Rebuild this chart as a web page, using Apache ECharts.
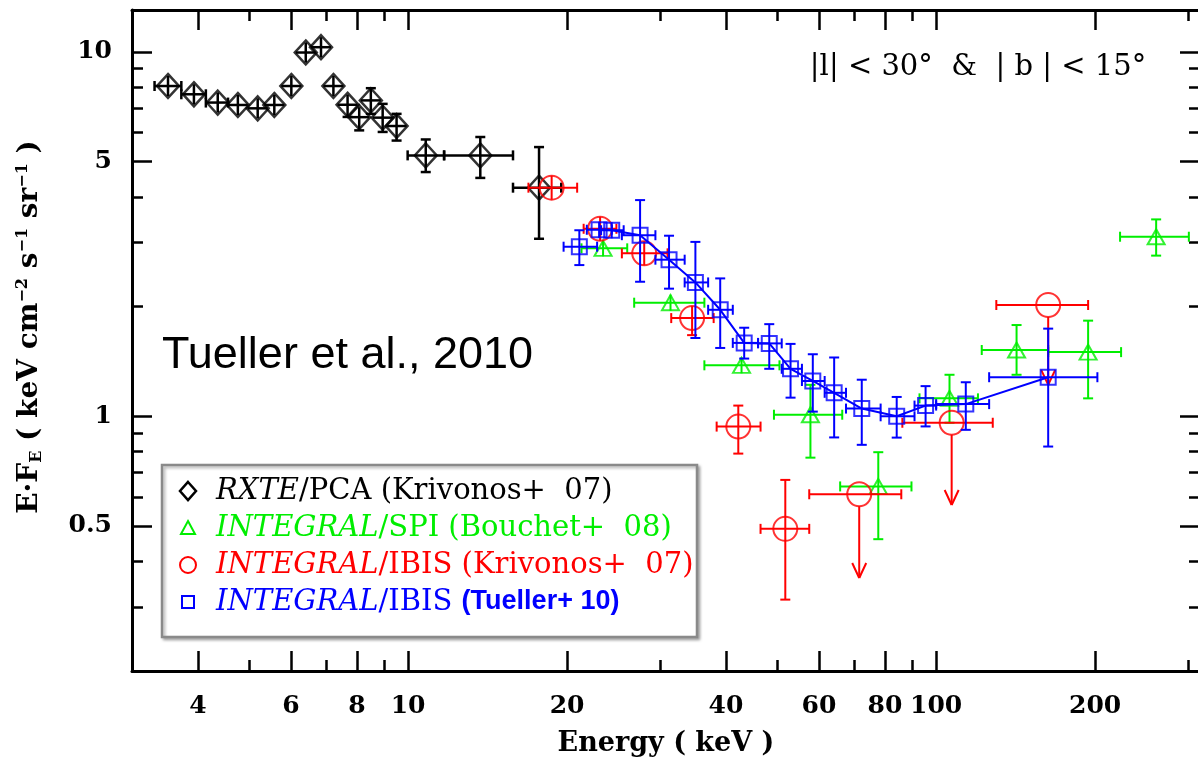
<!DOCTYPE html>
<html>
<head>
<meta charset="utf-8">
<script src="https://cdn.jsdelivr.net/npm/echarts@6.0.0/dist/echarts.min.js"></script>
<style>
html, body { margin: 0; padding: 0; background: #fff; }
#chart { width: 1198px; height: 763px; }
</style>
</head>
<body>
<div id="chart"></div>
<script>
// RXTE/PCA (Krivonos+ 07)
var rxteE = [3.51, 3.93, 4.36, 4.76, 5.19, 5.58, 6.01, 6.40, 6.84, 7.22, 7.68, 8.08, 8.50, 8.95, 9.51, 10.8, 13.7, 17.7]
var rxteF = [8.06, 7.65, 7.26, 7.15, 7.00, 7.15, 8.06, 9.96, 10.3, 8.06, 7.16, 6.62, 7.36, 6.60, 6.26, 5.20, 5.20, 4.24]
var rxteElo = [3.31, 3.72, 4.14, 4.56, 4.97, 5.38, 5.85, 6.25, 6.68, 7.05, 7.50, 7.90, 8.32, 8.77, 9.34, 9.98, 11.7, 15.8]
var rxteEhi = [3.72, 4.14, 4.56, 4.97, 5.38, 5.79, 6.17, 6.55, 7.00, 7.40, 7.86, 8.26, 8.68, 9.15, 9.70, 11.7, 15.8, 19.5]
var rxteFlo = [7.90, 7.50, 7.12, 7.00, 6.86, 7.00, 7.90, 9.76, 10.1, 7.90, 6.63, 6.09, 6.76, 6.03, 5.71, 4.68, 4.51, 3.07]
var rxteFhi = [8.22, 7.80, 7.40, 7.30, 7.14, 7.30, 8.22, 10.16, 10.5, 8.22, 7.62, 6.98, 7.95, 7.20, 6.76, 5.75, 5.84, 5.48]

// INTEGRAL/SPI (Bouchet+ 08)
var spiE = [23.4, 31.4, 42.8, 57.8, 77.7, 106, 142, 194, 261]
var spiF = [2.89, 2.05, 1.38, 1.01, 0.642, 1.12, 1.52, 1.50, 3.11]
var spiElo = [21.3, 26.8, 36.4, 49.3, 65.8, 93, 122, 163, 223]
var spiEhi = [26.0, 36.4, 50.5, 66.4, 89.8, 120, 163, 224, 301]
var spiFlo = [2.82, 1.98, 1.32, 0.77, 0.46, 0.96, 1.30, 1.12, 2.76]
var spiFhi = [2.96, 2.12, 1.45, 1.22, 0.797, 1.30, 1.78, 1.83, 3.47]

// INTEGRAL/IBIS (Krivonos+ 07), last three are upper limits
var ibisKE = [18.7, 23.1, 28.0, 34.5, 42.2, 51.8, 71.5, 107, 163]
var ibisKF = [4.24, 3.27, 2.80, 1.86, 0.937, 0.491, 0.611, 0.96, 2.02]
var ibisKElo = [16.9, 21.5, 25.4, 31.5, 38.4, 46.5, 57.5, 86.3, 130]
var ibisKEhi = [20.9, 24.8, 31.0, 37.9, 46.5, 57.5, 85.9, 128, 194]
var ibisKFlo = [4.14, 3.19, 2.73, 1.67, 0.79, 0.314, 0.36, 0.571, 1.22]
var ibisKFhi = [4.34, 3.35, 2.87, 2.00, 1.07, 0.669, 0.611, 0.96, 2.02]
var ibisKUL = [0, 0, 0, 0, 0, 0, 1, 1, 1]

// INTEGRAL/IBIS (Tueller+ 10)
var ibisTE = [21.1, 23.0, 24.3, 27.5, 31.2, 35.0, 39.0, 43.3, 48.3, 53.0, 58.4, 64.1, 72.3, 84.2, 95.5, 113.8, 163]
var ibisTF = [2.92, 3.25, 3.24, 3.14, 2.69, 2.33, 1.96, 1.59, 1.585, 1.35, 1.25, 1.16, 1.05, 1.00, 1.07, 1.08, 1.28]
var ibisTElo = [19.7, 21.8, 23.2, 25.4, 29.4, 33.4, 37.0, 41.2, 46.0, 51.0, 55.7, 61.5, 67.5, 78.5, 91, 100, 126]
var ibisTEhi = [22.8, 24.3, 25.6, 29.4, 33.4, 37.0, 41.2, 46.0, 51.0, 55.7, 61.5, 67.5, 78.5, 91, 100, 126, 202]
var ibisTFlo = [2.60, 3.15, 3.14, 2.34, 2.24, 1.64, 1.54, 1.44, 1.35, 1.125, 1.03, 0.875, 0.835, 0.874, 0.938, 0.918, 0.826]
var ibisTFhi = [3.24, 3.35, 3.34, 3.92, 3.13, 3.01, 2.39, 1.75, 1.79, 1.58, 1.48, 1.45, 1.26, 1.13, 1.21, 1.24, 1.74]

// axes
var xMin = 3
var xMax = 316
var yMin = 0.2
var yMax = 13.03
var xMajor = [4, 6, 8, 10, 20, 40, 60, 80, 100, 200]
var xMinor = [5, 7, 9, 30, 50, 70, 90, 300]
var xLabels = [4, 6, 8, 10, 20, 40, 60, 80, 100, 200]
var yMajor = [0.5, 1, 5, 10]
var yMinor = [0.3, 0.4, 0.6, 0.7, 0.8, 0.9, 2, 3, 4, 6, 7, 8, 9]
var yLabels = [0.5, 1, 5, 10]

var serif = 'DejaVu Serif'

function rows (E, F, lo, hi, flo, fhi, ul) {
  return E.map(function (e, i) {
    return [e, F[i], lo[i], hi[i], flo[i], fhi[i], ul ? ul[i] : 0]
  })
}

function errorBars (color, lw, r) {
  return function (params, api) {
    var e = api.value(0)
    var f = api.value(1)
    var c = api.coord([e, f])
    var xl = api.coord([api.value(2), f])[0]
    var xh = api.coord([api.value(3), f])[0]
    var yl = api.coord([e, api.value(4)])[1]
    var yh = api.coord([e, api.value(5)])[1]
    var ul = api.value(6)
    var st = { stroke: color, lineWidth: lw, fill: null }
    var kids = []
    var seg = function (x1, y1, x2, y2) {
      kids.push({ type: 'line', shape: { x1: x1, y1: y1, x2: x2, y2: y2 }, style: st })
    }
    var cap = 5
    seg(Math.min(xl, c[0] - r), c[1], Math.max(xh, c[0] + r), c[1])
    if (xl < c[0] - r) seg(xl, c[1] - cap, xl, c[1] + cap)
    if (xh > c[0] + r) seg(xh, c[1] - cap, xh, c[1] + cap)
    if (ul) {
      seg(c[0], c[1] + r, c[0], yl)
      seg(c[0] - 7, yl - 15, c[0], yl)
      seg(c[0], yl, c[0] + 7, yl - 15)
    } else {
      seg(c[0], Math.min(yh, c[1] - r), c[0], Math.max(yl, c[1] + r))
      if (yh < c[1] - r) seg(c[0] - cap, yh, c[0] + cap, yh)
      if (yl > c[1] + r) seg(c[0] - cap, yl, c[0] + cap, yl)
    }
    return { type: 'group', children: kids }
  }
}

function tickAxis (dir, pos, vals, len, labels) {
  var lo = dir === 'x' ? Math.log10(xMin) : Math.log10(yMin)
  var hi = dir === 'x' ? Math.log10(xMax) : Math.log10(yMax)
  var ax = {
    type: 'value',
    position: pos,
    offset: 0,
    min: lo,
    max: hi,
    axisLine: { show: false, onZero: false },
    splitLine: { show: false },
    axisTick: {
      show: true,
      inside: true,
      length: len,
      customValues: vals.map(Math.log10),
      lineStyle: { color: '#000', width: 2.5 }
    },
    axisLabel: { show: false }
  }
  if (labels) {
    ax.axisLabel = {
      show: true,
      customValues: labels.map(Math.log10),
      margin: dir === 'x' ? 23 : 20,
      color: '#000',
      fontFamily: serif,
      fontWeight: 'bold',
      fontSize: 25,
      formatter: function (v) {
        return String(Math.round(Math.pow(10, v) * 10) / 10)
      }
    }
  }
  return ax
}

function frameAxis (type, pos, dir) {
  var ax = {
    type: type,
    position: pos,
    offset: 0,
    min: dir === 'x' ? xMin : yMin,
    max: dir === 'x' ? xMax : yMax,
    axisLine: { show: true, onZero: false, lineStyle: { color: '#000', width: 3 } },
    axisTick: { show: false },
    axisLabel: { show: false },
    splitLine: { show: false }
  }
  if (type === 'log') ax.logBase = 10
  return ax
}

var xBottom = frameAxis('log', 'bottom', 'x')
xBottom.name = 'Energy ( keV )'
xBottom.nameLocation = 'middle'
xBottom.nameGap = 59
xBottom.nameTextStyle = { fontFamily: serif, fontWeight: 'bold', fontSize: 27, color: '#000' }

var myChart = echarts.init(document.getElementById('chart'), null, { renderer: 'canvas' })

var option = {
  animation: false,
  backgroundColor: '#fff',
  grid: { left: 132, right: -2, top: 10, bottom: 92, containLabel: false, outerBoundsMode: 'none' },
  xAxis: [
    xBottom,
    tickAxis('x', 'bottom', xMajor, 20, xLabels),
    tickAxis('x', 'bottom', xMinor, 11),
    tickAxis('x', 'top', xMajor, 20),
    tickAxis('x', 'top', xMinor, 11),
    frameAxis('log', 'top', 'x')
  ],
  yAxis: [
    frameAxis('log', 'left', 'y'),
    tickAxis('y', 'left', yMajor, 20, yLabels),
    tickAxis('y', 'left', yMinor, 11),
    tickAxis('y', 'right', yMajor, 20),
    tickAxis('y', 'right', yMinor, 11),
    frameAxis('log', 'right', 'y')
  ],
  series: [
    {
      type: 'custom',
      renderItem: errorBars('#000', 2.5, 10),
      data: rows(rxteE, rxteF, rxteElo, rxteEhi, rxteFlo, rxteFhi),
      encode: { x: 0, y: 1 },
      z: 2
    },
    {
      type: 'scatter',
      symbol: 'diamond',
      symbolSize: [22, 24],
      itemStyle: { color: 'rgba(0,0,0,0)', borderColor: '#000', borderWidth: 2.5 },
      data: rxteE.map(function (e, i) { return [e, rxteF[i]] }),
      z: 2
    },
    {
      type: 'custom',
      renderItem: errorBars('#00ee00', 2, 8),
      data: rows(spiE, spiF, spiElo, spiEhi, spiFlo, spiFhi),
      encode: { x: 0, y: 1 },
      z: 3
    },
    {
      type: 'scatter',
      symbol: 'triangle',
      symbolSize: [17, 15],
      itemStyle: { color: 'rgba(0,0,0,0)', borderColor: '#00ee00', borderWidth: 2 },
      data: spiE.map(function (e, i) { return [e, spiF[i]] }),
      z: 3
    },
    {
      type: 'custom',
      renderItem: errorBars('#ff0000', 2, 12),
      data: rows(ibisKE, ibisKF, ibisKElo, ibisKEhi, ibisKFlo, ibisKFhi, ibisKUL),
      encode: { x: 0, y: 1 },
      z: 4
    },
    {
      type: 'scatter',
      symbol: 'circle',
      symbolSize: 24,
      itemStyle: { color: 'rgba(0,0,0,0)', borderColor: '#ff0000', borderWidth: 2 },
      data: ibisKE.map(function (e, i) { return [e, ibisKF[i]] }),
      z: 4
    },
    {
      type: 'line',
      showSymbol: false,
      lineStyle: { color: '#0000ff', width: 2 },
      data: ibisTE.slice(1).map(function (e, i) { return [e, ibisTF[i + 1]] }),
      z: 5
    },
    {
      type: 'custom',
      renderItem: errorBars('#0000ff', 2, 8),
      data: rows(ibisTE, ibisTF, ibisTElo, ibisTEhi, ibisTFlo, ibisTFhi),
      encode: { x: 0, y: 1 },
      z: 5
    },
    {
      type: 'scatter',
      symbol: 'rect',
      symbolSize: 15,
      itemStyle: { color: 'rgba(0,0,0,0)', borderColor: '#0000ff', borderWidth: 2 },
      data: ibisTE.map(function (e, i) { return [e, ibisTF[i]] }),
      z: 5
    }
  ],
  graphic: [
    {
      type: 'text', x: 978, y: 67, z: 10,
      style: { text: '|l| < 30°  &  | b | < 15°', font: '29px "DejaVu Serif"', fill: '#000', align: 'center', verticalAlign: 'middle' }
    },
    {
      type: 'text', x: 162, y: 356, z: 10,
      style: { text: 'Tueller et al., 2010', font: '45px "Liberation Sans"', fill: '#000', align: 'left', verticalAlign: 'middle' }
    },
    {
      type: 'text', x: 30, y: 327, rotation: Math.PI / 2, z: 10,
      style: {
        text: '{n|E·F}{sub|E}{n| ( keV cm}{sup|−2}{n| s}{sup|−1}{n| sr}{sup|−1}{n| )}',
        align: 'center',
        verticalAlign: 'middle',
        fill: '#000',
        rich: {
          n: { fontFamily: serif, fontWeight: 'bold', fontSize: 28, fill: '#000' },
          sub: { fontFamily: serif, fontWeight: 'bold', fontSize: 16, fill: '#000', padding: [13, 0, 0, 0] },
          sup: { fontFamily: serif, fontWeight: 'bold', fontSize: 16, fill: '#000', padding: [0, 0, 15, 0] }
        }
      }
    },
    {
      type: 'rect', z: 20,
      shape: { x: 162, y: 465, width: 535, height: 172 },
      style: { fill: '#fff', stroke: '#8a8a8a', lineWidth: 2.5, shadowBlur: 3, shadowOffsetX: 2, shadowOffsetY: 2, shadowColor: 'rgba(0,0,0,0.3)' }
    },
    {
      type: 'polygon', z: 21,
      shape: { points: [[188, 482], [196, 491], [188, 500], [180, 491]] },
      style: { fill: null, stroke: '#000', lineWidth: 2.5 }
    },
    {
      type: 'polygon', z: 21,
      shape: { points: [[188, 521], [195, 534], [181, 534]] },
      style: { fill: null, stroke: '#00ee00', lineWidth: 2 }
    },
    {
      type: 'circle', z: 21,
      shape: { cx: 188, cy: 565, r: 8 },
      style: { fill: null, stroke: '#ff0000', lineWidth: 2 }
    },
    {
      type: 'rect', z: 21,
      shape: { x: 182, y: 596, width: 12, height: 12 },
      style: { fill: null, stroke: '#0000ff', lineWidth: 2 }
    },
    {
      type: 'text', x: 216, y: 491, z: 21,
      style: {
        text: '{i|RXTE}{n|/PCA (Krivonos+  07)}', verticalAlign: 'middle',
        rich: {
          i: { fontFamily: serif, fontStyle: 'italic', fontSize: 29, fill: '#000' },
          n: { fontFamily: serif, fontSize: 29, fill: '#000' }
        }
      }
    },
    {
      type: 'text', x: 216, y: 528, z: 21,
      style: {
        text: '{i|INTEGRAL}{n|/SPI (Bouchet+  08)}', verticalAlign: 'middle',
        rich: {
          i: { fontFamily: serif, fontStyle: 'italic', fontSize: 29, fill: '#00ee00' },
          n: { fontFamily: serif, fontSize: 29, fill: '#00ee00' }
        }
      }
    },
    {
      type: 'text', x: 216, y: 565, z: 21,
      style: {
        text: '{i|INTEGRAL}{n|/IBIS (Krivonos+  07)}', verticalAlign: 'middle',
        rich: {
          i: { fontFamily: serif, fontStyle: 'italic', fontSize: 29, fill: '#ff0000' },
          n: { fontFamily: serif, fontSize: 29, fill: '#ff0000' }
        }
      }
    },
    {
      type: 'text', x: 216, y: 602, z: 21,
      style: {
        text: '{i|INTEGRAL}{n|/IBIS }{b|(Tueller+ 10)}', verticalAlign: 'middle',
        rich: {
          i: { fontFamily: serif, fontStyle: 'italic', fontSize: 29, fill: '#0000ff' },
          n: { fontFamily: serif, fontSize: 29, fill: '#0000ff' },
          b: { fontFamily: 'Liberation Sans', fontWeight: 'bold', fontSize: 27, fill: '#0000ff' }
        }
      }
    }
  ]
}

myChart.setOption(option)
window.addEventListener('resize', function () {
  myChart.resize()
})
</script>
</body>
</html>
